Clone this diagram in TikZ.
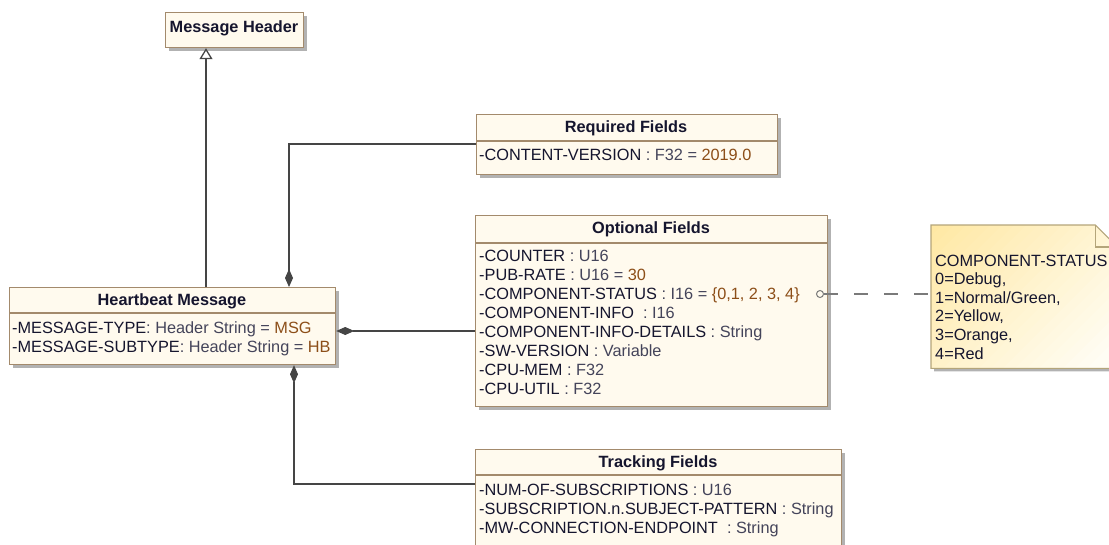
\documentclass[tikz,border=0pt]{standalone}
\usepackage{fontspec}
\setmainfont{Liberation Sans}
\usetikzlibrary{arrows.meta,shadows}
\definecolor{boxfill}{HTML}{FFFAEE}
\definecolor{boxline}{HTML}{A38A6C}
\definecolor{nmc}{HTML}{15152E}
\definecolor{tyc}{HTML}{44445A}
\definecolor{vac}{HTML}{8C4E18}
\definecolor{linec}{HTML}{454545}
\definecolor{dashc}{HTML}{7A7A7A}
\definecolor{noteA}{HTML}{FFE8A4}
\definecolor{noteB}{HTML}{FFFDF4}
\definecolor{noteline}{HTML}{B4A57A}
\newcommand\nm[1]{\textcolor{nmc}{#1}}
\newcommand\ty[1]{\textcolor{tyc}{#1}}
\newcommand\va[1]{\textcolor{vac}{#1}}
\begin{document}
\begin{tikzpicture}[x=1pt,y=-1pt,
  classbox/.style={draw=boxline, line width=1.2pt, fill=boxfill,
    drop shadow={shadow xshift=3pt, shadow yshift=-3pt, fill=black!30, opacity=1},
    anchor=north west, inner sep=0pt},
  sepline/.style={draw=boxline, line width=1.2pt},
  title/.style={font=\fontsize{16.3}{19}\selectfont\bfseries, text=nmc, inner sep=0pt, anchor=base},
  attr/.style={font=\fontsize{16.3}{19}\selectfont, inner sep=0pt, anchor=base west},
  comp/.style={draw=linec, line width=1.3pt, {Diamond[length=18pt,width=8pt,fill=linec]}-},
  gen/.style={draw=linec, line width=1.3pt, -{Triangle[open,length=11pt,width=13pt,fill=white]}},
  anchorline/.style={draw=dashc, line width=1.3pt, dash pattern=on 14pt off 16pt}]
\useasboundingbox (0,0) rectangle (1109,544);
\clip (0,0) rectangle (1109,544);

% Message Header
\node[classbox, minimum width=138pt, minimum height=35pt] (mh) at (165,12) {};
\node[title] (mht) at (234,32) {Message Header};

% Heartbeat Message
\node[classbox, minimum width=326pt, minimum height=77pt] (hb) at (9,287) {};
\draw[sepline] ([yshift=-26pt]hb.north west) -- ([yshift=-26pt]hb.north east);
\node[title] (hbt) at (172,305) {Heartbeat Message};
\node[attr] (hb1) at (12,333) {\nm{-MESSAGE-TYPE}\ty{: Header String} \ty{=} \va{MSG}};
\node[attr] (hb2) at (12,352) {\nm{-MESSAGE-SUBTYPE}\ty{: Header String} \ty{=} \va{HB}};

% Required Fields
\node[classbox, minimum width=301pt, minimum height=60pt] (req) at (476,114) {};
\draw[sepline] ([yshift=-27pt]req.north west) -- ([yshift=-27pt]req.north east);
\node[title] (reqt) at (626,132) {Required Fields};
\node[attr] (req1) at (479,160) {\nm{-CONTENT-VERSION} \ty{: F32} \ty{=} \va{2019.0}};

% Optional Fields
\node[classbox, minimum width=352pt, minimum height=191pt] (opt) at (475,215) {};
\draw[sepline] ([yshift=-28pt]opt.north west) -- ([yshift=-28pt]opt.north east);
\node[title] (optt) at (651,233) {Optional Fields};
\node[attr] (opt1) at (479,261) {\nm{-COUNTER} \ty{: U16}};
\node[attr] (opt2) at (479,280) {\nm{-PUB-RATE} \ty{: U16} \ty{=} \va{30}};
\node[attr] (opt3) at (479,299) {\nm{-COMPONENT-STATUS} \ty{: I16} \ty{=} \va{\{0,1, 2, 3, 4\}}};
\node[attr] (opt4) at (479,318) {\nm{-COMPONENT-INFO} \ty{\ : I16}};
\node[attr] (opt5) at (479,337) {\nm{-COMPONENT-INFO-DETAILS} \ty{: String}};
\node[attr] (opt6) at (479,356) {\nm{-SW-VERSION} \ty{: Variable}};
\node[attr] (opt7) at (479,375) {\nm{-CPU-MEM} \ty{: F32}};
\node[attr] (opt8) at (479,394) {\nm{-CPU-UTIL} \ty{: F32}};

% Tracking Fields
\node[classbox, minimum width=366pt, minimum height=120pt] (trk) at (475,449) {};
\draw[sepline] ([yshift=-26pt]trk.north west) -- ([yshift=-26pt]trk.north east);
\node[title] (trkt) at (658,467) {Tracking Fields};
\node[attr] (trk1) at (479,495) {\nm{-NUM-OF-SUBSCRIPTIONS} \ty{: U16}};
\node[attr] (trk2) at (479,514) {\nm{-SUBSCRIPTION.n.SUBJECT-PATTERN} \ty{: String}};
\node[attr] (trk3) at (479,533) {\nm{-MW-CONNECTION-ENDPOINT} \ty{\ : String}};

% Note
\node[minimum width=186pt, minimum height=143pt, anchor=north west, inner sep=0pt] (note) at (931,225) {};
\fill[black!30] ([shift={(3pt,-3pt)}]note.north west) -- ([shift={(-19pt,-3pt)}]note.north east)
  -- ([shift={(3pt,-25pt)}]note.north east) -- ([shift={(3pt,-3pt)}]note.south east)
  -- ([shift={(3pt,-3pt)}]note.south west) -- cycle;
\fill[noteB] (note.north west) -- ([xshift=-22pt]note.north east) -- ([yshift=-22pt]note.north east)
    -- (note.south east) -- (note.south west) -- cycle;
\begin{scope}
  \clip (note.north west) -- ([xshift=-22pt]note.north east) -- ([yshift=-22pt]note.north east)
    -- (note.south east) -- (note.south west) -- cycle;
  \foreach \i [evaluate=\i as \p using {int(100-4*\i)}] in {0,...,25} {
    \fill[noteA!\p!noteB] (931+\i*12-1,225) -- (931+\i*12+12.5,225)
      -- (931+\i*12+12.5-200,425) -- (931+\i*12-1-200,425) -- cycle;
  }
\end{scope}
\draw[draw=noteline, line width=1.1pt]
  (note.north west) -- ([xshift=-22pt]note.north east) -- ([yshift=-22pt]note.north east)
  -- (note.south east) -- (note.south west) -- cycle;
\draw[draw=noteline, line width=1.1pt] ([xshift=-22pt]note.north east) |- ([yshift=-22pt]note.north east);
\node[attr] (n1) at (935,266) {\nm{COMPONENT-STATUS}};
\node[attr] (n2) at (935,284.6) {\nm{0=Debug,}};
\node[attr] (n3) at (935,303.2) {\nm{1=Normal/Green,}};
\node[attr] (n4) at (935,321.8) {\nm{2=Yellow,}};
\node[attr] (n5) at (935,340.4) {\nm{3=Orange,}};
\node[attr] (n6) at (935,359) {\nm{4=Red}};

% connectors
\coordinate (g) at (206,0);
\draw[gen] (hb.north -| g) -- (mh.south -| g);
\coordinate (c1) at (289,144);
\draw[comp] (hb.north -| c1) -- (c1) -- (c1 -| req.west);
\coordinate (c2) at (0,331);
\draw[comp] (hb.east |- c2) -- (opt.west |- c2);
\coordinate (c3) at (294,484);
\draw[comp] (hb.south -| c3) -- (c3) -- (c3 -| trk.west);
\node[circle, draw=dashc, line width=1pt, inner sep=0pt, minimum size=7pt] (circ) at (820,294) {};
\draw[anchorline] (circ.east) -- (note.west |- circ);
\end{tikzpicture}
\end{document}
